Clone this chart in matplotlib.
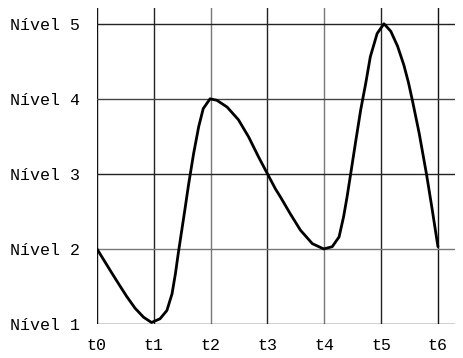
import matplotlib
matplotlib.use('Agg')
import matplotlib.pyplot as plt

# tick labels
time_labels = ['t0', 't1', 't2', 't3', 't4', 't5', 't6']
level_labels = ['Nível 1', 'Nível 2', 'Nível 3', 'Nível 4', 'Nível 5']
level_values = [1, 2, 3, 4, 5]

# curve (time in t-steps, level)
curve_t = [0.0, 0.13, 0.26, 0.41, 0.52, 0.67, 0.82, 0.96, 1.11, 1.23, 1.32,
           1.38, 1.43, 1.49, 1.55, 1.61, 1.70, 1.79, 1.87, 1.99, 2.11, 2.29,
           2.49, 2.67, 2.84, 3.0, 3.14, 3.23, 3.40, 3.58, 3.79, 3.99, 4.14,
           4.26, 4.34, 4.40, 4.46, 4.55, 4.64, 4.73, 4.81, 4.93, 5.05, 5.17,
           5.29, 5.40, 5.48, 5.55, 5.67, 5.80, 5.90, 6.0]
curve_level = [2.0, 1.84, 1.68, 1.50, 1.37, 1.21, 1.09, 1.02, 1.07, 1.18, 1.40,
               1.67, 1.94, 2.24, 2.54, 2.85, 3.27, 3.63, 3.87, 4.0, 3.98, 3.89,
               3.72, 3.49, 3.23, 3.0, 2.80, 2.69, 2.47, 2.25, 2.07, 2.0, 2.03,
               2.16, 2.43, 2.69, 2.98, 3.42, 3.85, 4.21, 4.56, 4.87, 5.0, 4.90,
               4.70, 4.45, 4.22, 3.98, 3.54, 2.99, 2.52, 2.03]

plt.rcParams['font.family'] = ['Liberation Mono', 'DejaVu Sans Mono']

fig = plt.figure(figsize=(4.63, 3.58), dpi=100)
ax = fig.add_axes([0.2095, 0.095, 0.7732, 0.8827])

vcolors = ['#111111', '#222222', '#777777', '#222222', '#777777', '#222222', '#111111']
hcolors = ['#111111', '#777777', '#222222', '#444444', '#222222']
for x, c in zip(range(len(time_labels)), vcolors):
    ax.axvline(x, color=c, lw=1.0, zorder=1)
for y, c in zip(level_values, hcolors):
    ax.axhline(y, color=c, lw=1.0, zorder=1)

ax.plot(curve_t, curve_level, color='black', lw=2.0, solid_capstyle='round',
        solid_joinstyle='round', zorder=3)

ax.set_xlim(0, 6.3)
ax.set_ylim(1, 5.21)
ax.set_xticks(range(len(time_labels)))
ax.set_xticklabels(time_labels)
ax.set_yticks(level_values)
ax.set_yticklabels(level_labels)
ax.tick_params(length=0, labelsize=12, colors='black')
ax.tick_params(axis='x', pad=10)
ax.tick_params(axis='y', pad=12)
for s in ax.spines.values():
    s.set_visible(False)

fig.savefig('out.png', dpi=100, facecolor='white')
plt.close(fig)
